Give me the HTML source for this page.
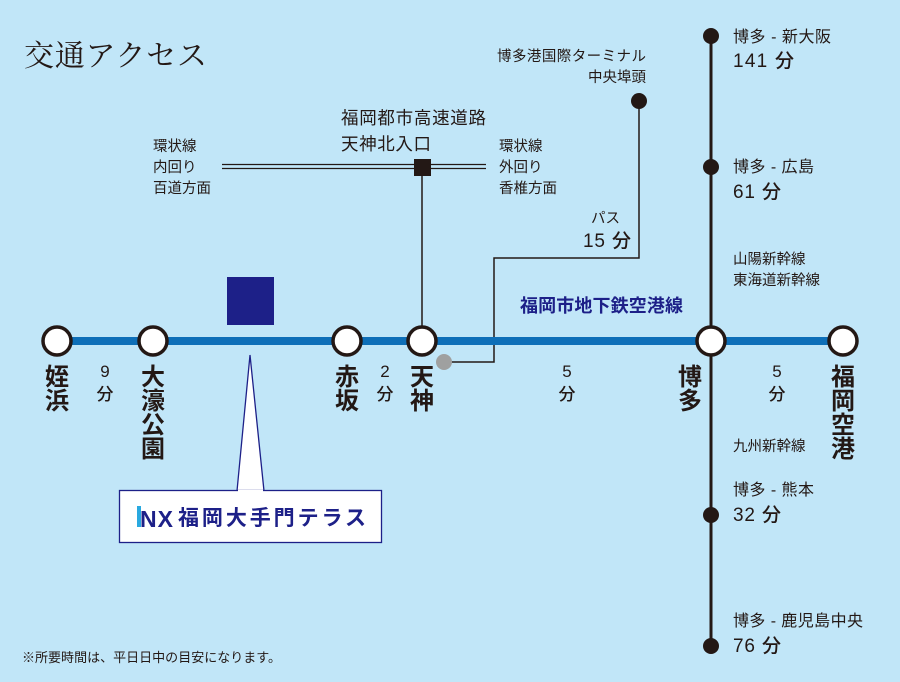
<!DOCTYPE html>
<html><head><meta charset="utf-8"><style>
body{margin:0;background:#c1e6f8}
svg{display:block}
text{font-family:"Liberation Sans","Noto Sans CJK JP",sans-serif;fill:#231815}
.st{font-size:24px;font-weight:bold;text-anchor:middle}
.tm{font-size:17px;font-weight:500;text-anchor:middle}
.s{font-size:14.5px}
.m{font-size:17.5px}
.n{font-size:16px}
.b{font-size:19px;font-weight:500}
</style></head><body>
<svg width="900" height="682" viewBox="0 0 900 682">
<rect width="900" height="682" fill="#c1e6f8"/>
<text x="24" y="66" textLength="183" style="font-family:'Liberation Serif','Noto Serif CJK SC',serif;font-size:30px">交通アクセス</text>
<!-- highway -->
<line x1="222" y1="164.5" x2="486" y2="164.5" stroke="#231815" stroke-width="1.3"/>
<line x1="222" y1="168.5" x2="486" y2="168.5" stroke="#231815" stroke-width="1.3"/>
<line x1="422" y1="167" x2="422" y2="330" stroke="#231815" stroke-width="1.5"/>
<rect x="414" y="159" width="17" height="17" fill="#231815"/>
<text x="341" y="124" class="m" textLength="145">福岡都市高速道路</text>
<text x="341" y="150" class="m" textLength="90">天神北入口</text>
<text x="153" y="151" class="s">環状線</text>
<text x="153" y="172" class="s">内回り</text>
<text x="153" y="193" class="s">百道方面</text>
<text x="499" y="151" class="s">環状線</text>
<text x="499" y="172" class="s">外回り</text>
<text x="499" y="193" class="s">香椎方面</text>
<!-- bus -->
<polyline points="444,362 494,362 494,258 639,258 639,101" fill="none" stroke="#231815" stroke-width="1.5"/>
<circle cx="444" cy="362" r="8" fill="#9fa0a0"/>
<circle cx="639" cy="101" r="8" fill="#231815"/>
<text x="497" y="61" class="s" textLength="149">博多港国際ターミナル</text>
<text x="646" y="82" class="s" text-anchor="end">中央埠頭</text>
<text x="620" y="223" class="s" text-anchor="end">パス</text>
<text x="583" y="247" class="b" textLength="48">15 分</text>
<!-- shinkansen -->
<line x1="711" y1="36" x2="711" y2="646" stroke="#231815" stroke-width="3"/>
<circle cx="711" cy="36" r="8" fill="#231815"/>
<circle cx="711" cy="167" r="8" fill="#231815"/>
<circle cx="711" cy="515" r="8" fill="#231815"/>
<circle cx="711" cy="646" r="8" fill="#231815"/>
<text x="733" y="42" class="n" textLength="98">博多 - 新大阪</text>
<text x="733" y="67" class="b" textLength="61">141 分</text>
<text x="733" y="172" class="n" textLength="81">博多 - 広島</text>
<text x="733" y="198" class="b" textLength="48">61 分</text>
<text x="733" y="264" class="s">山陽新幹線</text>
<text x="733" y="285" class="s">東海道新幹線</text>
<text x="733" y="451" class="s">九州新幹線</text>
<text x="733" y="495" class="n" textLength="81">博多 - 熊本</text>
<text x="733" y="521" class="b" textLength="48">32 分</text>
<text x="733" y="626" class="n" textLength="130">博多 - 鹿児島中央</text>
<text x="733" y="652" class="b" textLength="48">76 分</text>
<!-- subway -->
<line x1="57" y1="341" x2="843" y2="341" stroke="#0e6fb8" stroke-width="8"/>
<text x="520" y="312" textLength="163" style="font-size:18px;font-weight:bold;fill:#1d2088">福岡市地下鉄空港線</text>
<g fill="#fff" stroke="#231815" stroke-width="3.5">
<circle cx="57" cy="341" r="14"/><circle cx="153" cy="341" r="14"/><circle cx="347" cy="341" r="14"/>
<circle cx="422" cy="341" r="14"/><circle cx="711" cy="341" r="14"/><circle cx="843" cy="341" r="14"/>
</g>
<rect x="227" y="277" width="47" height="48" fill="#1d2088"/>
<!-- station labels -->
<text class="st" x="57" y="385">姪</text><text class="st" x="57" y="409">浜</text>
<text class="st" x="153" y="385">大</text><text class="st" x="153" y="409">濠</text><text class="st" x="153" y="433">公</text><text class="st" x="153" y="457">園</text>
<text class="st" x="347" y="385">赤</text><text class="st" x="347" y="409">坂</text>
<text class="st" x="422" y="385">天</text><text class="st" x="422" y="409">神</text>
<text class="st" x="690" y="385">博</text><text class="st" x="690" y="409">多</text>
<text class="st" x="843" y="385">福</text><text class="st" x="843" y="409">岡</text><text class="st" x="843" y="433">空</text><text class="st" x="843" y="457">港</text>
<text class="tm" x="105" y="377">9</text><text class="tm" x="105" y="400">分</text>
<text class="tm" x="385" y="377">2</text><text class="tm" x="385" y="400">分</text>
<text class="tm" x="567" y="377">5</text><text class="tm" x="567" y="400">分</text>
<text class="tm" x="777" y="377">5</text><text class="tm" x="777" y="400">分</text>
<!-- callout -->
<polygon points="250,355 237,491 264,491" fill="#fff" stroke="#1d2088" stroke-width="1.3"/>
<rect x="119.5" y="490.5" width="262" height="52" fill="#fff" stroke="#1d2088" stroke-width="1.3"/>
<line x1="238" y1="491" x2="263" y2="491" stroke="#fff" stroke-width="2"/>
<rect x="137" y="506" width="4" height="21" fill="#29a9e0"/>
<text x="140" y="527" textLength="33" style="font-size:23px;font-weight:bold;fill:#1d2088">NX</text>
<text x="178" y="525" textLength="188" style="font-size:21px;font-weight:bold;fill:#1d2088">福岡大手門テラス</text>
<text x="22" y="662" textLength="259" style="font-size:13px">※所要時間は、平日日中の目安になります。</text>
</svg>
</body></html>
